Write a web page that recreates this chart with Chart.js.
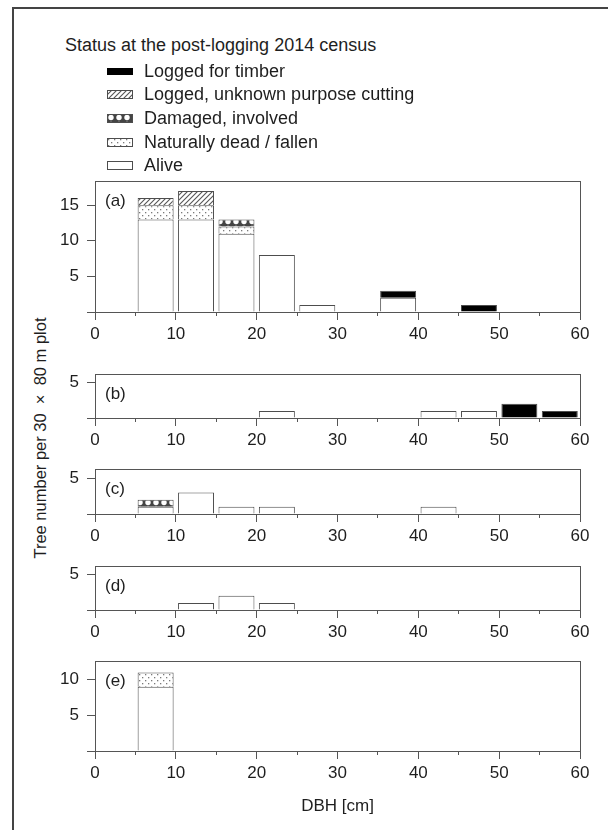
<!DOCTYPE html>
<html>
<head>
<meta charset="utf-8">
<script src="https://cdn.jsdelivr.net/npm/chart.js@4.4.0/dist/chart.umd.min.js"></script>
<style>
html,body{margin:0;padding:0;background:#fff;}
body{width:608px;height:830px;position:relative;overflow:hidden;font-family:"Liberation Sans",Arial,sans-serif;color:#1e1e1e;}
#frame{position:absolute;left:12px;top:7px;width:640px;height:860px;border-left:2px solid #444;border-top:2px solid #444;}
canvas.panel{position:absolute;left:0;}
.legend-title{position:absolute;left:65px;top:34px;font-size:18px;line-height:22px;white-space:nowrap;}
.legend-item{position:absolute;left:107px;height:22px;display:flex;align-items:center;font-size:18px;white-space:nowrap;}
.legend-item canvas{margin-right:11px;display:block;}
#ytitle{position:absolute;left:40px;top:438px;transform:translate(-50%,-50%) rotate(-90deg);white-space:nowrap;font-size:16.5px;}
</style>
</head>
<body>
<div id="frame"></div>
<div id="legend"></div>
<div id="ytitle">Tree number per 30 &nbsp;×&nbsp; 80 m plot</div>
<script>
// ---------- data ----------
const binMidpoints = [7.5, 12.5, 17.5, 22.5, 27.5, 32.5, 37.5, 42.5, 47.5, 52.5, 57.5]; // DBH classes 5-10 ... 55-60 cm
const statusNames = ['Alive', 'Naturally dead / fallen', 'Damaged, involved', 'Logged, unknown purpose cutting', 'Logged for timber'];
const legendTitle = 'Status at the post-logging 2014 census';
const panelLabels = ['(a)', '(b)', '(c)', '(d)', '(e)'];
const xAxisTitle = 'DBH [cm]';

// panel (a)
const aAlive         = [13, 13, 11, 8, 1, 0, 2, 0, 0, 0, 0];
const aDead          = [2, 2, 1, 0, 0, 0, 0, 0, 0, 0, 0];
const aDamaged       = [0, 0, 1, 0, 0, 0, 0, 0, 0, 0, 0];
const aLoggedUnknown = [1, 2, 0, 0, 0, 0, 0, 0, 0, 0, 0];
const aLoggedTimber  = [0, 0, 0, 0, 0, 0, 1, 0, 1, 0, 0];
// panel (b)
const bAlive         = [0, 0, 0, 1, 0, 0, 0, 1, 1, 0, 0];
const bDead          = [0, 0, 0, 0, 0, 0, 0, 0, 0, 0, 0];
const bDamaged       = [0, 0, 0, 0, 0, 0, 0, 0, 0, 0, 0];
const bLoggedUnknown = [0, 0, 0, 0, 0, 0, 0, 0, 0, 0, 0];
const bLoggedTimber  = [0, 0, 0, 0, 0, 0, 0, 0, 0, 2, 1];
// panel (c)
const cAlive         = [1, 3, 1, 1, 0, 0, 0, 1, 0, 0, 0];
const cDead          = [0, 0, 0, 0, 0, 0, 0, 0, 0, 0, 0];
const cDamaged       = [1, 0, 0, 0, 0, 0, 0, 0, 0, 0, 0];
const cLoggedUnknown = [0, 0, 0, 0, 0, 0, 0, 0, 0, 0, 0];
const cLoggedTimber  = [0, 0, 0, 0, 0, 0, 0, 0, 0, 0, 0];
// panel (d)
const dAlive         = [0, 1, 2, 1, 0, 0, 0, 0, 0, 0, 0];
const dDead          = [0, 0, 0, 0, 0, 0, 0, 0, 0, 0, 0];
const dDamaged       = [0, 0, 0, 0, 0, 0, 0, 0, 0, 0, 0];
const dLoggedUnknown = [0, 0, 0, 0, 0, 0, 0, 0, 0, 0, 0];
const dLoggedTimber  = [0, 0, 0, 0, 0, 0, 0, 0, 0, 0, 0];
// panel (e)
const eAlive         = [9, 0, 0, 0, 0, 0, 0, 0, 0, 0, 0];
const eDead          = [2, 0, 0, 0, 0, 0, 0, 0, 0, 0, 0];
const eDamaged       = [0, 0, 0, 0, 0, 0, 0, 0, 0, 0, 0];
const eLoggedUnknown = [0, 0, 0, 0, 0, 0, 0, 0, 0, 0, 0];
const eLoggedTimber  = [0, 0, 0, 0, 0, 0, 0, 0, 0, 0, 0];

const yAxisMax = [18.4, 6.2, 6.3, 6.2, 12.6];
const xAxisMin = 0, xAxisMax = 60;

// ---------- layout / style ----------
const FONT = '"Liberation Sans", Arial, sans-serif';
const INK = '#1e1e1e';
const AXIS = '#555';
const PX_PER_UNIT = 7.13;
const BOX_TOP = [181, 374, 469, 566, 661];
const PLOT_LEFT = 95, PLOT_RIGHT_PAD = 28, PAD_TOP = 12;

function tile(w, h, draw) {
  const c = document.createElement('canvas');
  c.width = w; c.height = h;
  const g = c.getContext('2d');
  g.fillStyle = '#fff'; g.fillRect(0, 0, w, h);
  draw(g, w, h);
  return c;
}
const tiles = {
  dead: tile(6, 6, g => { g.fillStyle = '#7a7a7a'; g.fillRect(1, 1, 1.3, 1.3); g.fillRect(4, 4, 1.3, 1.3); }),
  damaged: tile(8, 7, g => { g.fillStyle = '#444'; g.fillRect(0, 0, 8, 7); g.fillStyle = '#fff'; g.beginPath(); g.arc(4, 3.5, 2.7, 0, Math.PI * 2); g.fill(); }),
  unknown: tile(5, 5, g => { g.strokeStyle = '#555'; g.lineWidth = 1.1; g.beginPath(); g.moveTo(-1, 6); g.lineTo(6, -1); g.moveTo(-1, 1); g.lineTo(1, -1); g.moveTo(4, 6); g.lineTo(6, 4); g.stroke(); })
};
const pctx = document.createElement('canvas').getContext('2d');
const fills = {
  alive: '#ffffff',
  dead: pctx.createPattern(tiles.dead, 'repeat'),
  damaged: pctx.createPattern(tiles.damaged, 'repeat'),
  unknown: pctx.createPattern(tiles.unknown, 'repeat'),
  timber: '#000000'
};
const fillOrder = ['alive', 'dead', 'damaged', 'unknown', 'timber'];

// ---------- legend ----------
const legend = document.getElementById('legend');
const lt = document.createElement('div'); lt.className = 'legend-title'; lt.textContent = legendTitle; legend.appendChild(lt);
const legendRows = [4, 3, 2, 1, 0]; // top-to-bottom order of statusNames
const legendY = [71, 94, 118, 142, 165];
legendRows.forEach((si, r) => {
  const d = document.createElement('div'); d.className = 'legend-item'; d.style.top = (legendY[r] - 11) + 'px';
  const sw = document.createElement('canvas'); sw.width = 26; sw.height = 9;
  const g = sw.getContext('2d');
  const key = fillOrder[si];
  g.fillStyle = fills[key];
  if (key === 'timber') { g.fillRect(0, 1, 26, 7); }
  else { g.fillRect(0.5, 0.5, 25, 8); g.strokeStyle = '#4d4d4d'; g.lineWidth = 1; g.strokeRect(0.5, 0.5, 25, 8); }
  d.appendChild(sw);
  const s = document.createElement('span'); s.textContent = statusNames[si]; d.appendChild(s);
  legend.appendChild(d);
});

// ---------- charts ----------
const panelLabelPlugin = {
  id: 'panelLabel',
  afterDraw(chart, args, opts) {
    const {ctx, chartArea} = chart;
    ctx.save();
    ctx.font = '17px ' + FONT; ctx.fillStyle = INK; ctx.textBaseline = 'middle'; ctx.textAlign = 'left';
    ctx.fillText(opts.text, chartArea.left + 10, chartArea.top + 20);
    ctx.restore();
  }
};

const panelSeries = [
  [aAlive, aDead, aDamaged, aLoggedUnknown, aLoggedTimber],
  [bAlive, bDead, bDamaged, bLoggedUnknown, bLoggedTimber],
  [cAlive, cDead, cDamaged, cLoggedUnknown, cLoggedTimber],
  [dAlive, dDead, dDamaged, dLoggedUnknown, dLoggedTimber],
  [eAlive, eDead, eDamaged, eLoggedUnknown, eLoggedTimber]
];

function makePanel(idx) {
  const last = idx === panelSeries.length - 1;
  const xAxisH = last ? 70 : 32;
  const plotH = yAxisMax[idx] * PX_PER_UNIT;
  const H = Math.round(PAD_TOP + plotH + xAxisH);
  const cv = document.createElement('canvas');
  cv.className = 'panel';
  cv.width = 608; cv.height = H;
  cv.style.top = (BOX_TOP[idx] - PAD_TOP) + 'px';
  document.body.appendChild(cv);

  const datasets = panelSeries[idx].map((vals, si) => ({
    label: statusNames[si],
    data: vals.map((v, i) => ({x: binMidpoints[i], y: v === 0 ? null : v})),
    backgroundColor: fills[fillOrder[si]],
    borderColor: '#4d4d4d',
    borderWidth: 1,
    xAxisID: 'x', yAxisID: 'y'
  }));

  const tickFont = {size: 17, family: FONT};
  const noPad = s => { s.paddingTop = 0; s.paddingBottom = 0; s.paddingLeft = 0; s.paddingRight = 0; };
  new Chart(cv, {
    type: 'bar',
    data: {datasets},
    plugins: [panelLabelPlugin],
    options: {
      responsive: false, animation: false, devicePixelRatio: 1,
      layout: {padding: {top: PAD_TOP, right: PLOT_RIGHT_PAD, left: 0, bottom: 0}},
      datasets: {bar: {barPercentage: 0.89, categoryPercentage: 1, skipNull: true}},
      plugins: {legend: {display: false}, tooltip: {enabled: false}, panelLabel: {text: panelLabels[idx]}},
      scales: {
        x: {
          type: 'linear', position: 'bottom', min: xAxisMin, max: xAxisMax, stacked: true, weight: 1, offset: false,
          ticks: {stepSize: 10, font: tickFont, color: INK, padding: 4, maxRotation: 0, autoSkip: false},
          grid: {display: true, offset: false, drawOnChartArea: false, drawTicks: true, tickLength: 8, tickColor: AXIS, tickWidth: 1},
          border: {display: true, color: AXIS, width: 1},
          title: {display: last, text: xAxisTitle, font: {size: 17, family: FONT}, color: INK, padding: {top: 0, bottom: 4}},
          afterFit: s => { s.height = xAxisH; noPad(s); }
        },
        xMinor: {
          type: 'linear', position: 'bottom', min: xAxisMin, max: xAxisMax, weight: 0, offset: false,
          ticks: {display: false, stepSize: 5},
          grid: {display: true, offset: false, drawOnChartArea: false, drawTicks: true, tickLength: 4, tickColor: AXIS, tickWidth: 1},
          border: {display: false},
          afterFit: s => { s.height = 0; noPad(s); }
        },
        xTop: {
          type: 'linear', position: 'top', min: xAxisMin, max: xAxisMax, offset: false,
          ticks: {display: false}, grid: {display: false},
          border: {display: true, color: AXIS, width: 1},
          afterFit: s => { s.height = 0; noPad(s); }
        },
        y: {
          type: 'linear', position: 'left', min: 0, max: yAxisMax[idx], stacked: true,
          ticks: {stepSize: 5, includeBounds: false, font: tickFont, color: INK, padding: 8,
                  callback: v => (v === 0 ? '' : String(v))},
          grid: {display: true, drawOnChartArea: false, drawTicks: true, tickLength: 8, tickColor: AXIS, tickWidth: 1},
          border: {display: true, color: AXIS, width: 1},
          afterFit: s => { s.width = PLOT_LEFT; noPad(s); }
        },
        yRight: {
          type: 'linear', position: 'right', min: 0, max: yAxisMax[idx],
          ticks: {display: false}, grid: {display: false},
          border: {display: true, color: AXIS, width: 1},
          afterFit: s => { s.width = 0; noPad(s); }
        }
      }
    }
  });
}
panelSeries.forEach((_, i) => makePanel(i));
</script>
</body>
</html>
